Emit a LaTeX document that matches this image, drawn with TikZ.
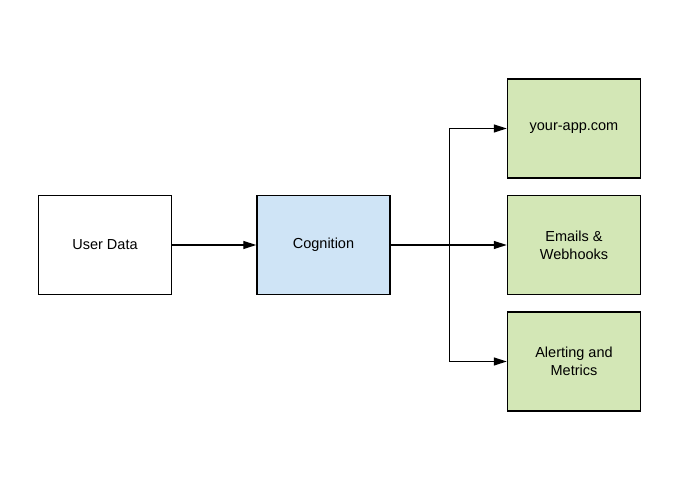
\documentclass[tikz,border=0pt]{standalone}
\usepackage{fontspec}
\setmainfont{Liberation Sans}
\usetikzlibrary{arrows.meta, positioning, calc}
\definecolor{cogblue}{HTML}{CFE4F6}
\definecolor{outgreen}{HTML}{D3E7B6}

\begin{document}
\begin{tikzpicture} [
    x=1pt, y=1pt,
    node distance=84pt,
    box/.style={rectangle, draw=black, line width=1.5pt, minimum width=133pt, minimum height=99pt, font=\fontsize{14.5}{18}\selectfont, align=center, inner sep=2pt},
    output/.style={box, fill=outgreen},
    arrow/.style={-{Triangle[length=13pt, width=8pt]}, line width=1.3pt}
]
\useasboundingbox (0,0) rectangle (695,494);

% Define all nodes first
\node[box] (data) at (105,249) {User Data};
\node[box, fill=cogblue, right=of data] (cog) {Cognition};
\node[output, right=116pt of cog] (mail) {Emails \&\\Webhooks};
\node[output, above=16pt of mail] (app) {your-app.com};
\node[output, below=16pt of mail] (alert) {Alerting and\\Metrics};
\coordinate (split) at ($(cog.east)+(59,0)$);

% Draw arrows
\draw[arrow] (data) -- (cog);
\draw[arrow] (cog) -- (mail);
\draw[arrow] (cog.east) -- (split) |- (app.west);
\draw[arrow] (split) |- (alert.west);

\end{tikzpicture}
\end{document}
